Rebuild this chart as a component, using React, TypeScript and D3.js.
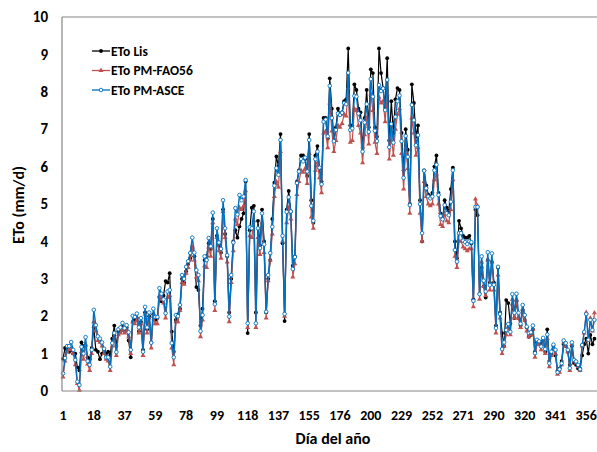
import React from "react";
import * as d3 from "d3";

const tickDays = ["1","18","37","59","78","99","118","137","155","176","200","229","252","271","290","320","341","356"];
const tickEvery = 15;
const yTicks = [0,1,2,3,4,5,6,7,8,9,10];

const etoASCE = [
0.47,0.88,1.2,1.2,1.31,1.1,0.83,0.25,0.16,1.18,1.0,1.44,0.8,0.7,1.1,2.17,1.76,1.46,1.4,1.3,
1.13,0.9,0.9,0.65,1.28,1.55,1.04,1.65,1.7,1.82,1.68,1.76,1.57,1.1,2.01,1.98,2.07,1.7,1.95,1.05,
2.25,1.7,2.1,1.29,2.2,1.98,1.98,2.75,2.6,2.45,
2.08,2.66,2.7,1.28,0.9,2.03,2.0,2.3,3.1,3.0,3.32,3.47,3.69,4.1,3.7,3.23,3.1,1.6,2.03,3.6,
3.5,4.09,3.87,4.77,2.32,4.35,3.97,3.8,5.1,4.35,3.63,1.99,3.1,3.97,4.89,4.72,5.24,5.1,5.2,5.64,
1.81,4.38,4.35,4.8,1.81,4.35,3.82,4.75,3.92,2.12,3.1,3.69,
4.39,5.49,5.96,5.78,6.71,4.15,2.06,4.79,5.18,4.8,3.26,3.58,5.56,5.87,6.2,6.14,6.24,5.87,6.71,4.95,
4.55,6.2,6.4,5.97,5.53,7.2,7.26,6.81,8.16,7.3,6.68,6.98,7.42,7.38,7.44,7.7,7.67,8.51,6.98,7.02,
7.89,7.87,7.42,7.24,6.4,7.18,7.67,6.93,8.34,7.87,6.96,
6.68,8.18,8.02,8.09,7.51,8.32,6.52,7.14,6.64,7.33,7.75,7.9,6.68,5.7,6.82,6.26,4.97,7.65,7.24,6.57,
6.84,5.0,4.22,5.89,5.42,5.2,5.15,5.2,5.9,6.05,5.24,4.68,4.59,4.97,4.75,4.7,5.06,5.9,3.77,3.46,
4.22,4.22,4.02,3.98,3.93,4.0,3.98,2.41,4.92,4.92,2.59,
3.6,2.95,2.66,3.71,2.83,3.68,2.84,1.68,3.32,2.06,1.12,1.3,1.63,1.79,1.58,2.59,2.09,2.6,2.09,1.8,
2.3,2.03,1.72,1.55,1.57,1.75,1.01,1.37,1.33,1.19,1.42,1.12,1.51,0.74,1.05,1.24,1.1,0.5,0.58,0.74,
1.35,1.28,1.1,0.61,1.3,0.83,0.79,0.7,0.58,1.23,1.58,2.06,1.37,1.9,1.63,1.9
];

const etoLis = [
0.86,1.15,1.1,1.05,1.1,1.0,1.0,0.63,0.55,1.3,1.2,1.2,0.9,0.85,1.15,1.7,1.1,1.05,0.85,1.0,
1.1,1.0,1.05,0.95,1.4,1.75,1.2,1.6,1.6,1.75,1.6,1.7,1.35,0.9,1.85,1.9,1.95,1.6,1.85,1.1,
2.1,1.65,2.0,1.3,2.05,1.9,1.95,2.5,2.4,2.55,
2.94,2.9,3.15,1.59,1.05,1.9,2.05,2.2,3.0,2.9,3.2,3.4,3.55,3.85,3.6,2.78,2.7,1.75,2.2,3.5,
3.6,3.95,3.8,4.6,2.4,4.15,3.9,3.7,4.85,4.2,3.6,2.1,3.0,4.0,4.3,4.1,4.4,4.6,4.75,5.6,
1.55,4.3,4.9,4.95,2.1,4.55,3.9,4.85,4.0,2.1,3.0,3.5,
4.6,5.57,6.27,6.0,6.87,3.95,1.87,4.85,5.35,4.8,3.35,3.6,5.6,5.9,6.3,6.3,6.2,5.75,6.87,5.1,
4.5,6.3,6.55,5.95,5.6,7.3,7.3,6.75,8.36,7.55,6.7,7.05,7.55,7.4,7.45,7.75,7.8,9.16,7.1,7.1,
8.2,8.05,7.55,7.45,6.5,7.3,8.05,7.05,8.6,8.5,7.05,
6.8,9.16,8.5,8.1,7.6,8.9,6.7,7.75,6.9,7.8,8.1,8.05,6.9,5.9,7.0,6.45,5.0,8.2,7.7,6.8,
7.1,5.1,4.0,5.9,5.5,5.25,5.2,5.3,6.0,6.3,5.3,4.75,4.6,5.1,4.9,4.8,5.4,5.97,4.0,3.55,
4.55,4.35,4.15,4.1,4.1,4.15,3.95,2.45,4.85,4.7,2.6,
3.3,2.8,2.5,3.5,2.9,3.45,2.9,1.75,3.3,2.1,1.55,1.2,2.43,2.35,1.8,2.3,1.95,2.4,1.95,1.75,
2.15,1.9,1.7,1.45,1.5,1.65,1.05,1.3,1.25,1.3,1.35,1.05,1.65,0.8,1.0,1.2,0.95,0.55,0.6,0.8,
1.25,1.2,1.05,0.7,1.2,0.75,0.7,0.6,0.6,0.95,1.25,1.4,1.0,1.5,1.25,1.4
];

const etoFAO = [
0.37,0.8,1.05,1.1,1.15,1.0,0.7,0.2,0.02,1.05,0.85,1.25,0.72,0.55,1.0,1.85,1.6,1.35,1.3,1.2,
1.0,0.85,0.8,0.55,1.2,1.45,0.95,1.5,1.55,1.65,1.55,1.6,1.45,1.0,1.85,1.8,1.9,1.55,1.8,0.95,
2.05,1.55,1.95,1.15,2.0,1.8,1.8,2.55,2.45,2.35,
1.95,2.5,2.55,1.15,0.7,1.85,1.85,2.15,2.9,2.85,3.15,3.3,3.5,3.85,3.5,3.05,2.95,1.45,1.9,3.35,
3.3,3.85,3.6,4.5,2.15,4.1,3.75,3.55,4.8,4.1,3.45,1.85,2.9,3.75,4.6,4.45,4.9,4.85,4.95,5.35,
1.7,4.15,4.1,4.55,1.7,4.1,3.65,4.5,3.7,1.95,2.95,3.5,
4.2,5.2,5.6,5.45,6.4,4.0,2.0,4.5,4.9,4.6,3.05,3.4,5.25,5.6,5.9,5.85,5.95,5.55,6.35,4.65,
4.35,5.9,6.1,5.7,5.3,6.9,6.95,6.5,7.7,6.95,6.4,6.7,7.1,7.05,7.15,7.4,7.35,8.1,6.65,6.7,
7.55,7.5,7.1,6.9,6.1,6.85,7.3,6.6,7.95,7.5,6.65,
6.35,7.85,7.7,7.75,7.2,7.95,6.2,6.85,6.3,7.0,7.4,7.55,6.35,5.4,6.5,5.95,4.75,7.3,6.9,6.3,
6.5,4.75,4.0,5.6,5.2,5.0,4.95,5.0,5.65,5.8,5.0,4.45,4.4,4.75,4.55,4.5,4.85,5.65,3.6,3.3,
4.0,4.0,3.85,3.8,3.75,3.8,3.8,2.25,5.13,4.95,2.45,
3.45,2.8,2.55,3.5,2.7,3.45,2.7,1.55,3.1,1.95,1.0,1.2,1.5,1.7,1.5,2.45,1.95,2.45,1.95,1.7,
2.2,1.9,1.6,1.45,1.5,1.65,0.9,1.25,1.25,1.1,1.35,1.0,1.4,0.65,0.95,1.15,1.0,0.45,0.5,0.7,
1.3,1.2,1.05,0.55,1.25,0.8,0.75,0.65,0.55,1.2,1.55,2.1,1.35,1.95,1.6,2.09
];

const seriesNames = ["ETo Lis", "ETo PM-FAO56", "ETo PM-ASCE"];

const W = 597, H = 452;
const FONT = "Carlito, Lato, 'Liberation Sans', sans-serif";

export default function App() {
  const left = 62, top = 17, bottom = 391, right = 600;
  const x = d3.scaleLinear().domain([0, 259]).range([63, 63 + 259 * 2.052]);
  const y = d3.scaleLinear().domain([0, 10]).range([bottom, top]);
  const line = d3.line<number>().x((_, i) => x(i)).y((d) => y(d));
  const tri = d3.symbol().type(d3.symbolTriangle).size(11)() as string;

  const black = "#000000", red = "#c0504d", blue = "#0070c0";

  return (
    <svg width={W} height={H} style={{ position: "absolute", left: 0, top: 0, background: "#fff" }}>
      <rect x={0} y={0} width={W} height={H} fill="#fff" />
      <defs>
        <clipPath id="clip">
          <rect x={left - 3} y={top - 5} width={right - left + 5} height={bottom - top + 8} />
        </clipPath>
      </defs>
      <g clipPath="url(#clip)">
        <path d={line(etoLis) || ""} fill="none" stroke={black} strokeWidth={1.2} />
        {etoLis.map((d, i) => (
          <circle key={"k" + i} cx={x(i)} cy={y(d)} r={1.9} fill={black} />
        ))}
        <path d={line(etoFAO) || ""} fill="none" stroke={red} strokeWidth={1.2} />
        {etoFAO.map((d, i) => (
          <path key={"r" + i} d={tri} transform={`translate(${x(i)},${y(d)})`} fill={red} />
        ))}
        <path d={line(etoASCE) || ""} fill="none" stroke={blue} strokeWidth={1.4} />
        {etoASCE.map((d, i) => (
          <circle key={"b" + i} cx={x(i)} cy={y(d)} r={1.8} fill="#fff" stroke={blue} strokeWidth={0.9} />
        ))}
      </g>
      <line x1={left} x2={right} y1={top} y2={top} stroke="#868686" strokeWidth={1.2} />
      <line x1={left} x2={left} y1={top} y2={bottom} stroke="#868686" strokeWidth={1.2} />
      <line x1={left} x2={right} y1={bottom} y2={bottom} stroke="#868686" strokeWidth={1.2} />
      {yTicks.map((t) => (
        <text key={"yt" + t} x={48} y={y(t)} dy="0.35em" textAnchor="end" fontFamily={FONT} fontWeight="bold" fontSize={15} fill="#000">{t}</text>
      ))}
      {tickDays.map((t, i) => (
        <text key={"xt" + i} x={x(i * tickEvery)} y={420} textAnchor="middle" fontFamily={FONT} fontWeight="bold" fontSize={14} fill="#000">{t}</text>
      ))}
      <text x={333} y={444} textAnchor="middle" fontFamily={FONT} fontWeight="bold" fontSize={16} fill="#000">Día del año</text>
      <text transform="translate(24,205) rotate(-90)" textAnchor="middle" fontFamily={FONT} fontWeight="bold" fontSize={16} fill="#000">ETo (mm/d)</text>
      {seriesNames.map((s, i) => {
        const ly = 51 + i * 19.5;
        const col = [black, red, blue][i];
        return (
          <g key={"lg" + i}>
            <line x1={92} x2={110} y1={ly} y2={ly} stroke={col} strokeWidth={1.3} />
            {i === 0 && <circle cx={101} cy={ly} r={1.9} fill={black} />}
            {i === 1 && <path d={tri} transform={`translate(101,${ly})`} fill={red} />}
            {i === 2 && <circle cx={101} cy={ly} r={1.8} fill="#fff" stroke={blue} strokeWidth={0.9} />}
            <text x={111} y={ly} dy="0.35em" fontFamily={FONT} fontWeight="bold" fontSize={13.5} fill="#000">{s}</text>
          </g>
        );
      })}
    </svg>
  );
}
